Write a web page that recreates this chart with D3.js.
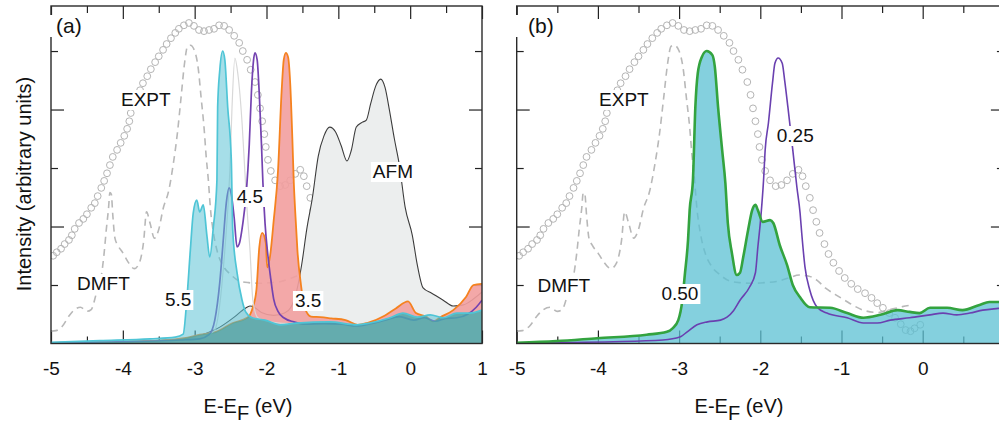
<!DOCTYPE html>
<html>
<head>
<meta charset="utf-8">
<script src="https://cdn.jsdelivr.net/npm/d3@7"></script>
<style>
  body { margin: 0; background: #fff; }
  text { font-family: "Liberation Sans", Arial, Helvetica, sans-serif; fill: #111; }
</style>
</head>
<body>
<script>
// ---- data (energy in eV, intensity in arbitrary units) ----
const exptPts = [
  [-4.97,1.50],[-4.92,1.56],[-4.86,1.62],[-4.81,1.70],[-4.75,1.77],[-4.71,1.85],[-4.67,1.96],
  [-4.61,2.06],[-4.55,2.13],[-4.50,2.21],[-4.44,2.32],[-4.39,2.40],[-4.35,2.52],[-4.30,2.66],
  [-4.26,2.78],[-4.22,2.91],[-4.18,3.05],[-4.14,3.19],[-4.08,3.31],[-4.03,3.43],[-3.98,3.55],
  [-3.94,3.67],[-3.91,3.80],[-3.89,3.94],[-3.84,4.08],[-3.80,4.21],[-3.76,4.33],[-3.72,4.45],
  [-3.66,4.57],[-3.61,4.69],[-3.55,4.81],[-3.50,4.91],[-3.44,5.02],[-3.39,5.12],[-3.33,5.22],
  [-3.27,5.31],[-3.22,5.38],[-3.15,5.44],[-3.08,5.48],[-3.01,5.43],[-2.94,5.36],[-2.87,5.34],
  [-2.80,5.36],[-2.73,5.38],[-2.66,5.44],[-2.59,5.43],[-2.52,5.36],[-2.45,5.26],[-2.38,5.14],
  [-2.33,5.00],[-2.27,4.85],[-2.22,4.68],[-2.16,4.47],[-2.12,4.25],[-2.09,4.02],[-2.06,3.80],
  [-2.03,3.58],[-2.01,3.36],[-1.98,3.14],[-1.94,2.95],[-1.88,2.79],[-1.81,2.69],[-1.74,2.71],
  [-1.67,2.79],[-1.60,2.90],[-1.53,2.97],[-1.48,2.86],[-1.44,2.69],[-1.39,2.49],[-1.35,2.28],
  [-1.31,2.08],[-1.27,1.89],[-1.21,1.70],[-1.16,1.53],[-1.10,1.38],[-1.03,1.24],[-0.96,1.12],
  [-0.88,1.02],[-0.80,0.93],[-0.71,0.86],[-0.63,0.78],[-0.56,0.69],[-0.49,0.61],[-0.41,0.52],
  [-0.34,0.44],[-0.27,0.33],[-0.21,0.23],[-0.15,0.21],[-0.10,0.26],[-0.03,0.32]
];

const dmftPts = [
  [-5.00,0.21],[-4.93,0.22],[-4.84,0.30],[-4.75,0.47],[-4.67,0.58],[-4.59,0.62],[-4.50,0.55],
  [-4.44,0.58],[-4.37,0.85],[-4.30,1.15],[-4.26,1.55],[-4.23,1.95],[-4.20,2.30],[-4.18,2.58],
  [-4.16,2.55],[-4.14,2.20],[-4.11,1.80],[-4.07,1.68],[-4.00,1.55],[-3.93,1.40],[-3.84,1.28],
  [-3.77,1.38],[-3.71,1.75],[-3.67,2.25],[-3.62,2.05],[-3.56,1.80],[-3.50,1.95],[-3.44,2.30],
  [-3.36,2.62],[-3.30,3.05],[-3.24,3.60],[-3.19,4.20],[-3.14,4.80],[-3.10,5.08],[-3.06,5.10],
  [-3.00,5.00],[-2.95,4.70],[-2.91,4.20],[-2.87,3.70],[-2.84,3.20],[-2.81,2.80],[-2.78,2.30],
  [-2.74,1.90],[-2.68,1.55],[-2.60,1.32],[-2.50,1.18],[-2.38,1.07],[-2.25,1.04],[-2.10,1.03],
  [-1.95,1.04],[-1.80,1.06],[-1.65,1.12],[-1.52,1.17],[-1.40,1.15],[-1.30,1.08],[-1.20,0.95],
  [-1.08,0.84],[-0.96,0.74],[-0.84,0.64],[-0.71,0.56],[-0.55,0.53],[-0.40,0.58],[-0.25,0.63],
  [-0.12,0.66]
];

// panel (a): U = 5.5, 4.5, (5.0, grey), 3.5 and AFM
const u55 = [
  [-5.00,0.02],[-4.32,0.05],[-3.62,0.08],[-3.27,0.11],[-3.16,0.16],[-3.11,0.74],[-3.06,1.60],
  [-3.02,2.23],[-2.97,2.45],[-2.93,2.25],[-2.88,2.37],[-2.83,1.85],[-2.79,1.48],[-2.74,1.99],
  [-2.69,2.79],[-2.68,4.04],[-2.65,4.68],[-2.61,5.00],[-2.58,4.85],[-2.54,4.04],[-2.49,3.14],
  [-2.47,1.94],[-2.41,1.21],[-2.34,0.74],[-2.29,0.54],[-2.20,0.44],[-2.02,0.40],[-1.81,0.32],
  [-1.58,0.35],[-1.12,0.37],[-0.74,0.32],[-0.56,0.35],[-0.28,0.44],[-0.10,0.52],[0.10,0.45],
  [0.28,0.49],[0.46,0.44],[0.65,0.52],[0.83,0.52],[1.00,0.57]
];
const u45 = [
  [-5.00,0.01],[-4.00,0.03],[-3.20,0.06],[-2.93,0.08],[-2.80,0.15],[-2.72,0.40],[-2.65,1.05],
  [-2.60,1.80],[-2.56,2.40],[-2.52,2.66],[-2.49,2.55],[-2.45,2.15],[-2.41,1.65],[-2.38,1.70],
  [-2.33,2.05],[-2.28,2.60],[-2.24,3.40],[-2.21,4.30],[-2.18,4.85],[-2.16,4.97],[-2.13,4.85],
  [-2.10,4.25],[-2.07,3.40],[-2.05,2.75],[-2.02,2.05],[-1.98,1.50],[-1.94,1.10],[-1.90,0.76],
  [-1.84,0.55],[-1.76,0.44],[-1.62,0.37],[-1.46,0.33],[-1.20,0.34],[-0.95,0.33],[-0.75,0.30],
  [-0.55,0.34],[-0.35,0.40],[-0.15,0.46],[0.05,0.40],[0.20,0.44],[0.35,0.38],[0.50,0.43],
  [0.65,0.44],[0.80,0.50],[0.92,0.62],[1.00,0.74]
];
const u50 = [
  [-2.80,0.15],[-2.72,0.23],[-2.58,1.60],[-2.51,2.96],[-2.48,4.04],[-2.44,4.88],[-2.40,4.62],
  [-2.34,3.77],[-2.30,2.91],[-2.27,2.28],[-2.23,1.60],[-2.19,0.74],[-2.12,0.44],[-1.95,0.37],
  [-1.70,0.34]
];
const u35 = [
  [-5.00,0.01],[-4.00,0.03],[-3.50,0.05],[-3.15,0.09],[-2.93,0.15],[-2.70,0.20],[-2.47,0.35],
  [-2.27,0.44],[-2.23,0.49],[-2.19,0.62],[-2.14,0.92],[-2.10,1.65],[-2.06,1.89],[-2.01,1.72],
  [-1.99,1.30],[-1.95,1.50],[-1.90,2.10],[-1.84,2.95],[-1.79,4.30],[-1.76,4.85],[-1.73,4.97],
  [-1.70,4.90],[-1.67,4.45],[-1.64,3.50],[-1.62,2.75],[-1.60,2.25],[-1.57,1.60],[-1.52,1.00],
  [-1.47,0.62],[-1.38,0.46],[-1.25,0.45],[-1.10,0.43],[-0.90,0.40],[-0.73,0.32],[-0.60,0.35],
  [-0.35,0.48],[-0.20,0.60],[-0.03,0.72],[0.08,0.52],[0.22,0.46],[0.32,0.38],[0.42,0.45],
  [0.60,0.57],[0.78,0.80],[0.88,1.00],[1.00,1.02]
];
const afmPts = [
  [-5.00,0.01],[-4.00,0.03],[-3.20,0.07],[-2.90,0.15],[-2.65,0.28],[-2.45,0.45],[-2.30,0.60],
  [-2.23,0.64],[-2.17,0.62],[-2.07,0.53],[-1.90,0.48],[-1.75,0.52],[-1.66,0.62],[-1.58,0.90],
  [-1.51,1.35],[-1.44,1.95],[-1.36,2.50],[-1.28,3.20],[-1.20,3.55],[-1.12,3.70],[-1.04,3.62],
  [-0.96,3.38],[-0.88,3.12],[-0.82,3.30],[-0.75,3.70],[-0.67,3.78],[-0.61,3.82],[-0.55,4.10],
  [-0.48,4.40],[-0.41,4.52],[-0.35,4.38],[-0.29,4.00],[-0.22,3.50],[-0.15,3.05],[-0.07,2.33],
  [0.03,1.85],[0.10,1.34],[0.18,0.95],[0.30,0.86],[0.46,0.74],[0.60,0.64],[0.74,0.66],
  [0.88,0.76],[1.00,0.88]
];

// panel (b): J = 0.50 (filled) and 0.25
const j050 = [
  [-5.00,0.01],[-4.51,0.04],[-4.01,0.09],[-3.40,0.15],[-3.15,0.20],[-3.08,0.26],[-3.01,0.40],
  [-2.96,0.74],[-2.93,1.17],[-2.89,1.77],[-2.87,2.28],[-2.83,2.79],[-2.80,4.04],[-2.77,4.62],
  [-2.72,4.90],[-2.66,5.00],[-2.59,4.93],[-2.56,4.73],[-2.52,4.04],[-2.47,3.31],[-2.43,2.74],
  [-2.40,2.06],[-2.35,1.55],[-2.29,1.17],[-2.25,1.21],[-2.21,1.48],[-2.15,1.94],[-2.10,2.28],
  [-2.06,2.37],[-2.03,2.28],[-1.97,2.08],[-1.88,2.11],[-1.84,2.06],[-1.76,1.68],[-1.67,1.34],
  [-1.60,1.00],[-1.51,0.79],[-1.39,0.62],[-1.14,0.61],[-0.93,0.52],[-0.73,0.44],[-0.52,0.49],
  [-0.31,0.57],[-0.16,0.54],[-0.04,0.52],[0.09,0.61],[0.30,0.61],[0.49,0.57],[0.70,0.66],
  [0.82,0.71],[0.93,0.71],[1.00,0.70]
];
const j025 = [
  [-5.00,0.01],[-3.81,0.03],[-3.20,0.06],[-2.99,0.11],[-2.90,0.20],[-2.78,0.32],[-2.65,0.37],
  [-2.49,0.40],[-2.41,0.45],[-2.33,0.56],[-2.25,0.74],[-2.13,0.97],[-2.06,1.21],[-2.03,1.65],
  [-2.00,2.06],[-1.96,2.79],[-1.94,3.31],[-1.90,3.77],[-1.85,4.45],[-1.82,4.79],[-1.78,4.88],
  [-1.73,4.79],[-1.70,4.50],[-1.66,4.04],[-1.60,3.31],[-1.55,2.68],[-1.51,2.23],[-1.49,1.89],
  [-1.45,1.31],[-1.39,0.91],[-1.30,0.62],[-1.18,0.52],[-0.93,0.44],[-0.73,0.35],[-0.56,0.35],
  [-0.40,0.40],[-0.16,0.44],[0.09,0.49],[0.25,0.52],[0.42,0.49],[0.58,0.52],[0.74,0.57],
  [0.93,0.60],[1.00,0.61]
];

const energyMajor = [-5, -4, -3, -2, -1, 0, 1];
const energyMinor = [-4.5, -3.5, -2.5, -1.5, -0.5, 0.5];
const intMajor = [2, 4];
const intMinor = [1, 3, 5];

// ---- layout ----
const W = 999, H = 424;
const yTop = 6, yBot = 343.5;
const svg = d3.select("body").append("svg").attr("width", W).attr("height", H);
const y = d3.scaleLinear().domain([0, 5.77]).range([yBot, yTop]);

function makePanel(x0, x1, id) {
  const x = d3.scaleLinear().domain([-5, 1]).range([x0, x1]);
  const g = svg.append("g");
  svg.append("clipPath").attr("id", "clip-" + id)
    .append("rect").attr("x", x0).attr("y", yTop).attr("width", x1 - x0).attr("height", yBot - yTop);

  // ticks first, fills go over them
  const ax = g.append("g").attr("class", "ticks");
  const tk = (axis, tr) => {
    const a = ax.append("g").attr("transform", tr).call(axis);
    a.select(".domain").remove();
    a.selectAll(".tick line").attr("stroke", "#222").attr("stroke-width", 1.2);
    return a;
  };
  // labels only for ticks that fall inside the picture
  const shown = energyMajor.filter(v => x(v) < W - 4);
  tk(d3.axisBottom(x).tickValues(energyMajor).tickSizeInner(-13).tickSizeOuter(0).tickFormat(""), `translate(0,${yBot})`);
  const bot = tk(d3.axisBottom(x).tickValues(shown).tickSize(0)
    .tickPadding(18).tickFormat(d => String(d)), `translate(0,${yBot})`);
  bot.selectAll(".tick text").attr("font-size", 19).attr("fill", "#111")
    .style("font-family", '"Liberation Sans", Arial, sans-serif');
  tk(d3.axisBottom(x).tickValues(energyMinor).tickSizeInner(-7).tickSizeOuter(0).tickFormat(""), `translate(0,${yBot})`);
  tk(d3.axisTop(x).tickValues(energyMajor).tickSizeInner(-13).tickSizeOuter(0).tickFormat(""), `translate(0,${yTop})`);
  tk(d3.axisTop(x).tickValues(energyMinor).tickSizeInner(-7).tickSizeOuter(0).tickFormat(""), `translate(0,${yTop})`);
  tk(d3.axisLeft(y).tickValues(intMajor).tickSizeInner(-13).tickSizeOuter(0).tickFormat(""), `translate(${x0},0)`);
  tk(d3.axisLeft(y).tickValues(intMinor).tickSizeInner(-7).tickSizeOuter(0).tickFormat(""), `translate(${x0},0)`);
  tk(d3.axisRight(y).tickValues(intMajor).tickSizeInner(-13).tickSizeOuter(0).tickFormat(""), `translate(${x1},0)`);
  tk(d3.axisRight(y).tickValues(intMinor).tickSizeInner(-7).tickSizeOuter(0).tickFormat(""), `translate(${x1},0)`);

  const plot = g.append("g").attr("clip-path", `url(#clip-${id})`);
  return { x, g, plot, x0, x1 };
}

function lineGen(x) {
  return d3.line().x(d => x(d[0])).y(d => y(d[1])).curve(d3.curveMonotoneX);
}
function areaGen(x) {
  return d3.area().x(d => x(d[0])).y0(yBot).y1(d => y(d[1])).curve(d3.curveMonotoneX);
}

function drawRefs(p) {
  p.plot.append("path").datum(dmftPts).attr("d", lineGen(p.x))
    .attr("fill", "none").attr("stroke", "#b8b8b8").attr("stroke-width", 1.6)
    .attr("stroke-dasharray", "7,5");
  p.plot.append("g").selectAll("circle").data(exptPts).join("circle")
    .attr("cx", d => p.x(d[0])).attr("cy", d => y(d[1])).attr("r", 3.4)
    .attr("fill", "none").attr("stroke", "#b4b4b4").attr("stroke-width", 1);
}

function tag(g, cx, base, txt, size) {
  const t = g.append("text").attr("x", cx).attr("y", base).attr("text-anchor", "middle")
    .attr("font-size", size || 19).text(txt);
  const bb = t.node().getBBox();
  g.insert("rect", () => t.node()).attr("x", bb.x - 2).attr("y", bb.y + 1)
    .attr("width", bb.width + 4).attr("height", bb.height - 1).attr("fill", "#fff");
  return t;
}

function frame(p) {
  p.g.append("rect").attr("x", p.x0).attr("y", yTop).attr("width", p.x1 - p.x0)
    .attr("height", yBot - yTop).attr("fill", "none").attr("stroke", "#2a2a2a").attr("stroke-width", 1.4);
}

function xTitle(p, cx) {
  const t = p.g.append("text").attr("x", cx).attr("y", 413).attr("text-anchor", "middle")
    .attr("font-size", 20);
  t.append("tspan").text("E-E");
  t.append("tspan").attr("dy", 7).text("F");
  t.append("tspan").attr("dy", -7).text(" (eV)");
}

// ---- panel (a) ----
const pa = makePanel(51, 482, "a");
drawRefs(pa);
const la = lineGen(pa.x), aa = areaGen(pa.x);
pa.plot.append("path").datum(afmPts).attr("d", aa).attr("fill", "#eceeee");
pa.plot.append("path").datum(afmPts).attr("d", la).attr("fill", "none").attr("stroke", "#3c3c3c").attr("stroke-width", 1.1);
pa.plot.append("path").datum(u35).attr("d", aa).attr("fill", "#f29e9e").attr("fill-opacity", 0.9);
pa.plot.append("path").datum(u35).attr("d", la).attr("fill", "none").attr("stroke", "#f5821f").attr("stroke-width", 1.8);
pa.plot.append("path").datum(u50).attr("d", la).attr("fill", "none").attr("stroke", "#d8d8d8").attr("stroke-width", 1.2);
pa.plot.append("path").datum(u45).attr("d", la).attr("fill", "none").attr("stroke", "#7443b0").attr("stroke-width", 1.7);
pa.plot.append("path").datum(u55).attr("d", aa).attr("fill", "#5cc3d5").attr("fill-opacity", 0.55);
// where the 5.5 fill sits over the 3.5 fill the colours mix to teal
svg.append("clipPath").attr("id", "clip-u35").append("path").datum(u35).attr("d", aa);
pa.plot.append("g").attr("clip-path", "url(#clip-u35)")
  .append("path").datum(u55).attr("d", aa).attr("fill", "#3ca5a2").attr("fill-opacity", 0.6);
pa.plot.append("path").datum(u55).attr("d", la).attr("fill", "none").attr("stroke", "#4fc5d6").attr("stroke-width", 1.7);
frame(pa);

tag(pa.g, 56, 33, "(a)", 21).attr("text-anchor", "start");
tag(pa.g, pa.x(-3.68), 106, "EXPT");
tag(pa.g, pa.x(-4.27), 290, "DMFT");
tag(pa.g, pa.x(-3.23), 306, "5.5");
tag(pa.g, pa.x(-2.23), 203, "4.5");
tag(pa.g, pa.x(-1.42), 307, "3.5");
tag(pa.g, pa.x(-0.24), 178, "AFM");
xTitle(pa, 248);

// ---- panel (b) ----
const pb = makePanel(516.7, 1003.9, "b");
drawRefs(pb);
const lb = lineGen(pb.x), ab = areaGen(pb.x);
pb.plot.append("path").datum(j050).attr("d", ab).attr("fill", "#5bc0d3").attr("fill-opacity", 0.75);
pb.plot.append("path").datum(j025).attr("d", lb).attr("fill", "none").attr("stroke", "#6a40b0").attr("stroke-width", 1.6);
pb.plot.append("path").datum(j050).attr("d", lb).attr("fill", "none").attr("stroke", "#33a33f").attr("stroke-width", 2.6);
frame(pb);

tag(pb.g, 528, 33, "(b)", 21).attr("text-anchor", "start");
tag(pb.g, pb.x(-3.68), 106, "EXPT");
tag(pb.g, pb.x(-4.42), 292, "DMFT");
tag(pb.g, pb.x(-2.99), 300, "0.50");
tag(pb.g, pb.x(-1.57), 142, "0.25");
xTitle(pb, 739);

// ---- y title ----
svg.append("text").attr("transform", "translate(31,184) rotate(-90)")
  .attr("text-anchor", "middle").attr("font-size", 20).text("Intensity (arbitrary units)");
</script>
</body>
</html>
